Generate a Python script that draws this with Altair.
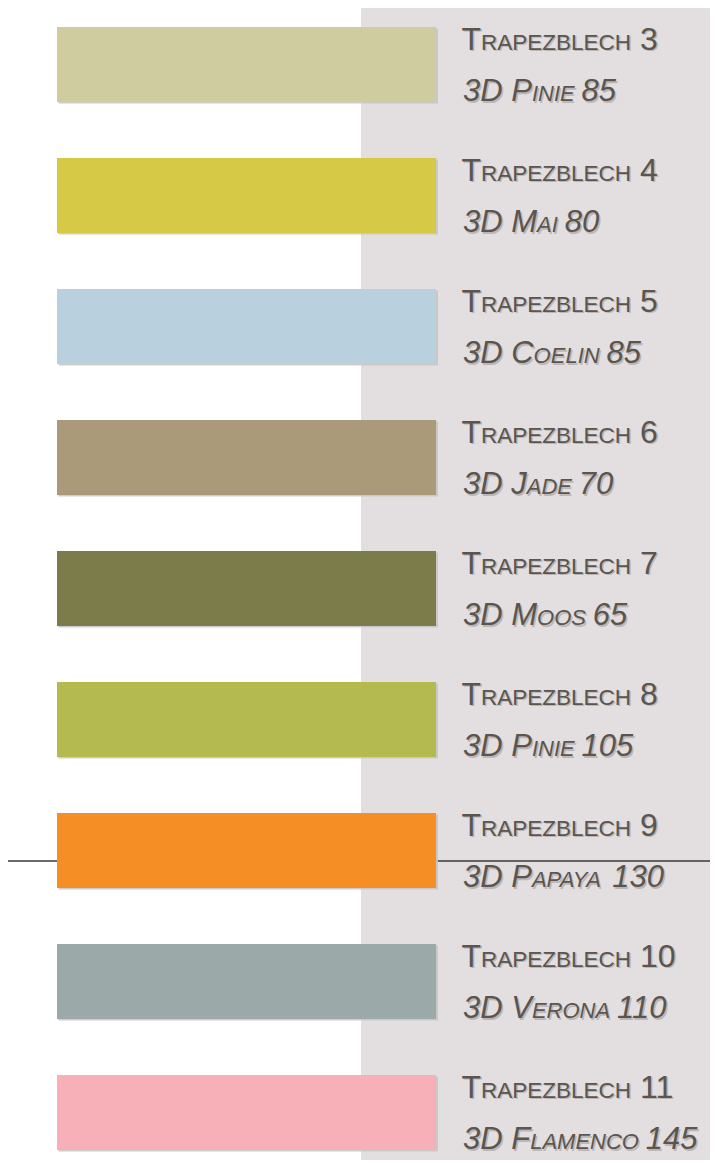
import altair as alt
import pandas as pd

# ---- data ----
blech_nums = [3, 4, 5, 6, 7, 8, 9, 10, 11]
color_names = ["Pinie", "Mai", "Coelin", "Jade", "Moos", "Pinie", "Papaya", "Verona", "Flamenco"]
color_codes = [85, 80, 85, 70, 65, 105, 130, 110, 145]
swatch_colors = ["#cfcca0", "#d5c946", "#b9d1df", "#aa9a79", "#7c7c4b",
                 "#b4ba4f", "#f68e26", "#9ba9a8", "#f7afb8"]

# ---- layout / style ----
W, H = 702, 1152
FONT = "Liberation Sans"
TEXT_COL = "#5a554e"
SHADOW_COL = "#b3aeac"
PANEL_COL = "#e3dfe0"
B1, S1 = 32, 22.5   # first line: big / small caps sizes
B2, S2 = 31, 22     # second line
X1, X2 = 453.5, 455  # text start (chart px)
DY1, DY2 = -14.5, 37

# Arial / Liberation Sans advance widths (1/1000 em)
ADV = {" ": 278, "A": 667, "B": 667, "C": 722, "D": 722, "E": 667, "F": 611, "G": 778,
       "H": 722, "I": 278, "J": 500, "K": 667, "L": 556, "M": 833, "N": 722, "O": 778,
       "P": 667, "Q": 778, "R": 722, "S": 667, "T": 611, "U": 722, "V": 667, "W": 944,
       "X": 667, "Y": 667, "Z": 611}
for d in "0123456789":
    ADV[d] = 556


def adv(s, size):
    return sum(ADV[c] for c in s) / 1000.0 * size


rows = [f"Trapezblech {n}" for n in blech_nums]

bars = pd.DataFrame({"row": rows, "color": swatch_colors})

l1_big, l1_small, l2_big, l2_small = [], [], [], []
for r, n, name, code in zip(rows, blech_nums, color_names, color_codes):
    # line 1: small caps "Trapezblech n"
    x = X1
    l1_big.append({"row": r, "text": "T", "x": x})
    x += adv("T", B1)
    l1_small.append({"row": r, "text": "RAPEZBLECH", "x": x})
    x += adv("RAPEZBLECH", S1) + adv(" ", B1)
    l1_big.append({"row": r, "text": f"{n}", "x": x})
    # line 2: italic small caps "3D Name code"
    x = X2
    a = "3D " + name[0].upper()
    l2_big.append({"row": r, "text": a, "x": x})
    x += adv(a, B2)
    b = name[1:].upper()
    l2_small.append({"row": r, "text": b, "x": x})
    x += adv(b, S2) + adv(" ", B2) * 0.8
    l2_big.append({"row": r, "text": f"{code}", "x": x})

# band scale: step 131 px, bar 75 px, first bar top at 19 px
yscale = alt.Scale(paddingInner=0.42748, paddingOuter=0.110685, align=0.655)
Y = alt.Y("row:N", sort=rows, scale=yscale, axis=None)

panel = alt.Chart(pd.DataFrame({"k": [0]})).mark_rect(color=PANEL_COL).encode(
    x=alt.value(353), x2=alt.value(W), y=alt.value(0), y2=alt.value(H))

rule = alt.Chart(pd.DataFrame({"k": [0]})).mark_rule(color="#3a3a3a", strokeWidth=1.5).encode(
    x=alt.value(0), x2=alt.value(W), y=alt.value(853))

bar_shadow = alt.Chart(bars).mark_bar(color="#c9c5c4", opacity=0.9).encode(
    y=Y, x=alt.value(50.5), x2=alt.value(430), yOffset=alt.value(1.5))

bar_layer = alt.Chart(bars).mark_bar().encode(
    y=Y, x=alt.value(49), x2=alt.value(428),
    color=alt.Color("color:N", scale=None))


def text_layer(data, size, dy, italic, color, shift=0.0, opacity=1.0):
    kw = dict(font=FONT, fontSize=size, align="left", baseline="alphabetic",
              dx=shift, dy=dy + shift, color=color, opacity=opacity)
    if italic:
        kw["fontStyle"] = "italic"
    return alt.Chart(pd.DataFrame(data)).mark_text(**kw).encode(
        x=alt.X("x:Q", scale=None), y=Y, text="text:N")


layers = [panel, rule, bar_shadow, bar_layer]
for shift, col, op in [(1.5, SHADOW_COL, 0.8), (0, TEXT_COL, 1.0)]:
    layers += [
        text_layer(l1_big, B1, DY1, False, col, shift, op),
        text_layer(l1_small, S1, DY1, False, col, shift, op),
        text_layer(l2_big, B2, DY2, True, col, shift, op),
        text_layer(l2_small, S2, DY2, True, col, shift, op),
    ]

chart = alt.layer(*layers).properties(
    width=W, height=H, padding=0,
    autosize=alt.AutoSizeParams(type="none"),
    background="white",
).configure_view(stroke=None)

chart.save("out.html", embed_options={"renderer": "svg", "actions": False})
